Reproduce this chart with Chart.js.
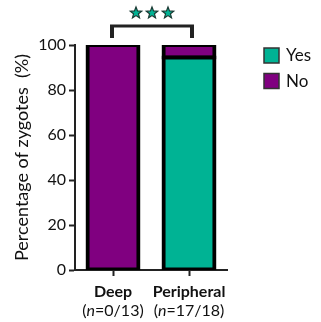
<!DOCTYPE html>
<html>
<head>
<meta charset="utf-8">
<script src="https://cdn.jsdelivr.net/npm/chart.js@4/dist/chart.umd.min.js"></script>
<style>
  html, body { margin: 0; padding: 0; background: #fff; }
  #wrap { width: 321px; height: 322px; position: relative; }
</style>
</head>
<body>
<div id="wrap"><canvas id="c" width="321" height="322"></canvas></div>
<script>
// Zygote outcome by location, stacked to 100 %
const categories = ['Deep', 'Peripheral'];
const sampleLabels = ['0/13', '17/18'];
const yesPercent = [null, 17 / 18 * 100];
const noPercent = [100, 1 / 18 * 100];
const yTicks = [0, 20, 40, 60, 80, 100];
const seriesNames = ['Yes', 'No'];
const significance = '***';

const TEAL = '#00b394';
const PURPLE = '#800080';
const INK = '#111111';
const FONT = 'Lato, "Open Sans", sans-serif';

// x-axis labels: bold category name, then sample size with italic n
const xLabelPlugin = {
  id: 'xLabels',
  afterDraw(chart) {
    const ctx = chart.ctx;
    const xs = chart.scales.x;
    const yBase = chart.chartArea.bottom;
    ctx.save();
    ctx.fillStyle = INK;
    ctx.textBaseline = 'alphabetic';
    categories.forEach((cat, i) => {
      const cx = xs.getPixelForValue(i);
      ctx.font = 'bold 16px ' + FONT;
      ctx.textAlign = 'center';
      ctx.fillText(cat, cx, yBase + 27);
      // "(n=a/b)" with italic n
      const parts = [['(', 'normal'], ['n', 'italic'], ['=' + sampleLabels[i] + ')', 'normal']];
      let total = 0;
      parts.forEach(p => { ctx.font = p[1] + ' 16px ' + FONT; total += ctx.measureText(p[0]).width; });
      let x = cx - total / 2;
      ctx.textAlign = 'left';
      parts.forEach(p => {
        ctx.font = p[1] + ' 16px ' + FONT;
        ctx.fillText(p[0], x, yBase + 46);
        x += ctx.measureText(p[0]).width;
      });
    });
    ctx.restore();
  }
};

// significance bracket and stars above the two bars
function starPath(ctx, cx, cy, rOut, rIn) {
  ctx.beginPath();
  for (let k = 0; k < 10; k++) {
    const r = k % 2 === 0 ? rOut : rIn;
    const a = -Math.PI / 2 + k * Math.PI / 5;
    const px = cx + r * Math.cos(a), py = cy + r * Math.sin(a);
    if (k === 0) ctx.moveTo(px, py); else ctx.lineTo(px, py);
  }
  ctx.closePath();
}
const bracketPlugin = {
  id: 'bracket',
  afterDraw(chart) {
    const ctx = chart.ctx;
    const xs = chart.scales.x, ys = chart.scales.y;
    const x1 = xs.getPixelForValue(0) - 1;
    const x2 = xs.getPixelForValue(1) + 3;
    const top = ys.getPixelForValue(100);
    const yBar = top - 19;
    ctx.save();
    ctx.strokeStyle = '#222';
    ctx.lineWidth = 3;
    ctx.beginPath();
    ctx.moveTo(x1 - 2, yBar);
    ctx.lineTo(x2 + 2, yBar);
    ctx.stroke();
    ctx.lineWidth = 4;
    ctx.beginPath();
    ctx.moveTo(x1, yBar);
    ctx.lineTo(x1, top - 7);
    ctx.moveTo(x2, yBar);
    ctx.lineTo(x2, top - 7);
    ctx.stroke();
    const mid = (x1 + x2) / 2;
    const n = significance.length;
    for (let k = 0; k < n; k++) {
      const cx = mid + (k - (n - 1) / 2) * 16;
      starPath(ctx, cx, yBar - 13, 6, 2.6);
      ctx.fillStyle = TEAL;
      ctx.fill();
      ctx.lineWidth = 1.2;
      ctx.strokeStyle = '#1a3a33';
      ctx.stroke();
    }
    ctx.restore();
  }
};

// legend on the right
const legendPlugin = {
  id: 'sideLegend',
  afterDraw(chart) {
    const ctx = chart.ctx;
    ctx.save();
    chart.data.datasets.forEach((ds, i) => {
      const bx = 264, by = 48 + i * 25.5;
      ctx.fillStyle = ds.backgroundColor;
      ctx.fillRect(bx, by, 15, 15);
      ctx.lineWidth = 1.5;
      ctx.strokeStyle = '#333';
      ctx.strokeRect(bx, by, 15, 15);
      ctx.fillStyle = INK;
      ctx.font = '17px ' + FONT;
      ctx.textAlign = 'left';
      ctx.textBaseline = 'middle';
      ctx.fillText(ds.label, 286, by + 8);
    });
    ctx.restore();
  }
};

new Chart(document.getElementById('c'), {
  type: 'bar',
  data: {
    labels: categories,
    datasets: [
      { label: seriesNames[0], data: yesPercent, backgroundColor: TEAL },
      { label: seriesNames[1], data: noPercent, backgroundColor: PURPLE }
    ]
  },
  options: {
    responsive: false,
    animation: false,
    devicePixelRatio: 1,
    layout: { padding: { left: 0, right: 94, top: 45, bottom: 0 } },
    datasets: {
      bar: {
        borderColor: '#000',
        borderWidth: 4,
        borderSkipped: false,
        inflateAmount: 2,
        barPercentage: 0.67,
        categoryPercentage: 1
      }
    },
    plugins: {
      legend: { display: false },
      tooltip: { enabled: false }
    },
    scales: {
      x: {
        stacked: true,
        offset: true,
        afterFit(s) { s.height = 52; },
        grid: { display: true, drawOnChartArea: false, drawTicks: true, tickLength: 6, tickWidth: 2, tickColor: '#222', offset: false },
        border: { display: true, color: '#222', width: 2 },
        ticks: { display: false }
      },
      y: {
        stacked: true,
        min: 0,
        max: 100,
        afterFit(s) { s.width = 75; },
        afterBuildTicks(s) { s.ticks = yTicks.map(v => ({ value: v })); },
        grid: { display: true, drawOnChartArea: false, drawTicks: true, tickLength: 6, tickWidth: 2, tickColor: '#222' },
        border: { display: true, color: '#222', width: 2 },
        ticks: { color: INK, font: { family: FONT, size: 16 }, padding: 3 },
        title: { display: true, text: 'Percentage of zygotes  (%)', color: INK, font: { family: FONT, size: 18, weight: 'normal' }, padding: { top: 11, bottom: 0 } }
      }
    }
  },
  plugins: [xLabelPlugin, bracketPlugin, legendPlugin]
});
</script>
</body>
</html>
